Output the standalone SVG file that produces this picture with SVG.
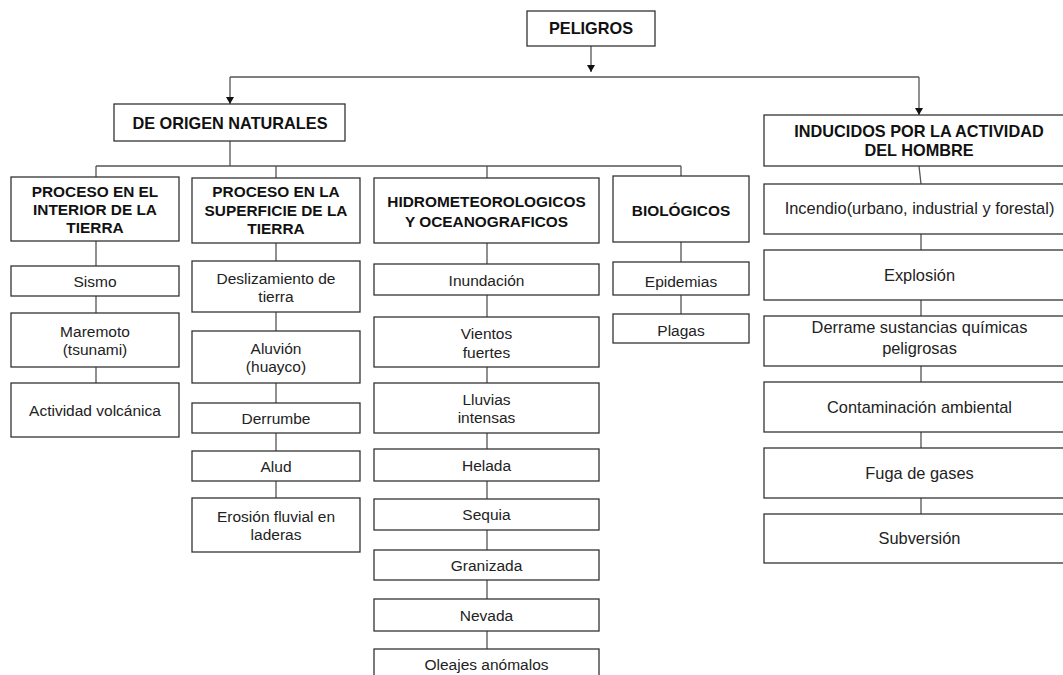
<svg xmlns="http://www.w3.org/2000/svg" width="1063" height="675" viewBox="0 0 1063 675">
<style>
.box{fill:#fff;stroke:#333;stroke-width:1.3}
.c{fill:none;stroke:#555;stroke-width:1.3}
.t{font-family:"Liberation Sans",Arial,sans-serif;font-size:15.5px;fill:#222;text-anchor:middle}
.tr{font-family:"Liberation Sans",Arial,sans-serif;font-size:16.4px;fill:#222;text-anchor:middle}
.h{font-family:"Liberation Sans",Arial,sans-serif;font-size:15.4px;font-weight:bold;fill:#111;text-anchor:middle}
.H{font-family:"Liberation Sans",Arial,sans-serif;font-size:16.3px;font-weight:bold;fill:#111;text-anchor:middle}
</style>
<defs>
<marker id="arr" markerUnits="userSpaceOnUse" markerWidth="8" markerHeight="8" refX="7" refY="4" orient="auto">
<path d="M0,0 L7,4 L0,8 z" fill="#111"/>
</marker>
</defs>
<rect width="1063" height="675" fill="#fff"/>
<g id="connectors">
<path class="c" d="M591,46 V72" marker-end="url(#arr)"/>
<path class="c" d="M230,77 H919"/>
<path class="c" d="M230,77 V104" marker-end="url(#arr)"/>
<path class="c" d="M919,77 V115" marker-end="url(#arr)"/>
<path class="c" d="M230,141 V166 M96,166 H681 M96,166 V177 M276,166 V178 M487,166 V178 M681,166 V176"/>
<path class="c" d="M96,241 V266 M96,296 V313 M96,367 V383"/>
<path class="c" d="M276,243 V261 M276,312 V331 M276,383 V403 M276,433 V451 M276,481 V498"/>
<path class="c" d="M487,243 V264 M487,295 V317 M487,367 V383 M487,433 V449 M487,481 V499 M487,530 V550 M487,580 V599 M487,631 V649"/>
<path class="c" d="M681,242 V262 M681,295 V314"/>
<path class="c" d="M919,166 L921,184 M921,234 V250 M921,300 V316 M921,366 V382 M921,432 V448 M921,498 V514"/>
</g>
<g id="peligros"><rect class="box" x="527" y="11" width="128" height="35"/><text class="H" x="591" y="33.5">PELIGROS</text></g>
<g id="naturales"><rect class="box" x="114" y="104" width="231" height="37"/><text class="H" x="230" y="128.5">DE ORIGEN NATURALES</text></g>
<g id="inducidos"><rect class="box" x="764" y="115" width="310" height="51"/><text class="H" x="919" y="137">INDUCIDOS POR LA ACTIVIDAD</text><text class="H" x="919" y="156">DEL HOMBRE</text></g>

<g id="interior"><rect class="box" x="11" y="177" width="168" height="64"/><text class="h" x="95" y="197">PROCESO EN EL</text><text class="h" x="95" y="215">INTERIOR DE LA</text><text class="h" x="95" y="233">TIERRA</text></g>
<g id="sismo"><rect class="box" x="11" y="266" width="168" height="30"/><text class="t" x="95" y="287">Sismo</text></g>
<g id="maremoto"><rect class="box" x="11" y="313" width="168" height="54"/><text class="t" x="95" y="337">Maremoto</text><text class="t" x="95" y="355">(tsunami)</text></g>
<g id="volcanica"><rect class="box" x="11" y="383" width="168" height="54"/><text class="t" x="95" y="416">Actividad volcánica</text></g>

<g id="superficie"><rect class="box" x="192" y="178" width="168" height="65"/><text class="h" x="276" y="197">PROCESO EN LA</text><text class="h" x="276" y="216">SUPERFICIE DE LA</text><text class="h" x="276" y="234">TIERRA</text></g>
<g id="deslizamiento"><rect class="box" x="192" y="261" width="168" height="51"/><text class="t" x="276" y="284">Deslizamiento de</text><text class="t" x="276" y="302">tierra</text></g>
<g id="aluvion"><rect class="box" x="192" y="331" width="168" height="52"/><text class="t" x="276" y="354">Aluvión</text><text class="t" x="276" y="372">(huayco)</text></g>
<g id="derrumbe"><rect class="box" x="192" y="403" width="168" height="30"/><text class="t" x="276" y="424">Derrumbe</text></g>
<g id="alud"><rect class="box" x="192" y="451" width="168" height="30"/><text class="t" x="276" y="472">Alud</text></g>
<g id="erosion"><rect class="box" x="192" y="498" width="168" height="54"/><text class="t" x="276" y="522">Erosión fluvial en</text><text class="t" x="276" y="540">laderas</text></g>

<g id="hidro"><rect class="box" x="374" y="178" width="225" height="65"/><text class="h" x="486.5" y="207">HIDROMETEOROLOGICOS</text><text class="h" x="486.5" y="227">Y OCEANOGRAFICOS</text></g>
<g id="inundacion"><rect class="box" x="374" y="264" width="225" height="31"/><text class="t" x="486.5" y="286">Inundación</text></g>
<g id="vientos"><rect class="box" x="374" y="317" width="225" height="50"/><text class="t" x="486.5" y="339">Vientos</text><text class="t" x="486.5" y="358">fuertes</text></g>
<g id="lluvias"><rect class="box" x="374" y="383" width="225" height="50"/><text class="t" x="486.5" y="405">Lluvias</text><text class="t" x="486.5" y="423">intensas</text></g>
<g id="helada"><rect class="box" x="374" y="449" width="225" height="32"/><text class="t" x="486.5" y="471">Helada</text></g>
<g id="sequia"><rect class="box" x="374" y="499" width="225" height="31"/><text class="t" x="486.5" y="520">Sequia</text></g>
<g id="granizada"><rect class="box" x="374" y="550" width="225" height="30"/><text class="t" x="486.5" y="571">Granizada</text></g>
<g id="nevada"><rect class="box" x="374" y="599" width="225" height="32"/><text class="t" x="486.5" y="621">Nevada</text></g>
<g id="oleajes"><rect class="box" x="374" y="649" width="225" height="31"/><text class="t" x="486.5" y="670">Oleajes anómalos</text></g>

<g id="biologicos"><rect class="box" x="613" y="176" width="136" height="66"/><text class="h" x="681" y="216">BIOLÓGICOS</text></g>
<g id="epidemias"><rect class="box" x="613" y="262" width="136" height="33"/><text class="t" x="681" y="287">Epidemias</text></g>
<g id="plagas"><rect class="box" x="613" y="314" width="136" height="29"/><text class="t" x="681" y="336">Plagas</text></g>

<g id="incendio"><rect class="box" x="764" y="184" width="310" height="50"/><text class="tr" x="919.5" y="214">Incendio(urbano, industrial y forestal)</text></g>
<g id="explosion"><rect class="box" x="764" y="250" width="310" height="50"/><text class="tr" x="919.5" y="281">Explosión</text></g>
<g id="derrame"><rect class="box" x="764" y="316" width="310" height="50"/><text class="tr" x="919.5" y="333">Derrame sustancias químicas</text><text class="tr" x="919.5" y="354">peligrosas</text></g>
<g id="contaminacion"><rect class="box" x="764" y="382" width="310" height="50"/><text class="tr" x="919.5" y="413">Contaminación ambiental</text></g>
<g id="fuga"><rect class="box" x="764" y="448" width="310" height="50"/><text class="tr" x="919.5" y="479">Fuga de gases</text></g>
<g id="subversion"><rect class="box" x="764" y="514" width="310" height="49"/><text class="tr" x="919.5" y="544">Subversión</text></g>
</svg>
